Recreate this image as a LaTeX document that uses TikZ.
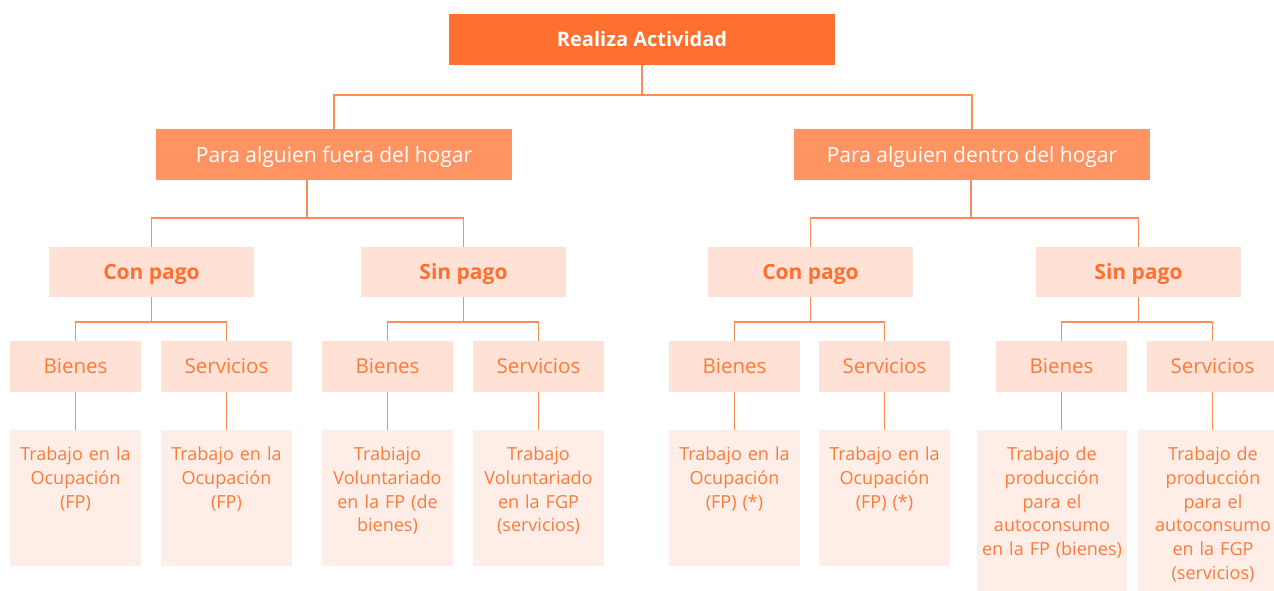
\documentclass[tikz,border=0pt]{standalone}
\usepackage{fontspec}
\setmainfont{Open Sans}

\definecolor{naranja}{HTML}{FF6F2E}
\definecolor{naranjaclaro}{HTML}{FF9462}
\definecolor{rosado}{HTML}{FFE1D6}
\definecolor{crema}{HTML}{FFEEE7}
\definecolor{linea}{HTML}{FF8B55}
\definecolor{letra}{HTML}{FF7A38}

\begin{document}
\begin{tikzpicture}[x=1pt, y=-1pt,
	raiz/.style = {fill=naranja, text=white, font=\fontsize{20}{22}\selectfont\bfseries, minimum width=386pt, minimum height=51pt, inner sep=0pt},
	destino/.style = {fill=naranjaclaro, text=white, font=\fontsize{21}{24}\selectfont, minimum width=356pt, minimum height=51pt, inner sep=0pt, text depth=0pt},
	pago/.style = {fill=rosado, text=naranja, font=\fontsize{21}{24}\selectfont\bfseries, minimum width=205pt, minimum height=50pt, inner sep=0pt, text depth=0pt},
	tipo/.style = {fill=rosado, text=letra, font=\fontsize{20.5}{24}\selectfont, minimum width=131pt, minimum height=51pt, inner sep=0pt},
	trabajo/.style = {fill=crema, anchor=north, minimum width=131pt, minimum height=136pt, inner sep=0pt},
	texto/.style = {text=letra, font=\fontsize{18}{23.7}\selectfont, align=center, anchor=north, inner sep=0pt, yshift=-17pt},
	enlace/.style = {draw=linea, line width=1.6pt}
]

	% Margins
	
	\useasboundingbox (0, 0) rectangle (1274, 591);
	
	% Root
	
	\node [raiz] (actividad) at (642, 39.5) {Realiza Actividad};
	
	% For whom
	
	\node [destino] (fuera) at (334, 154.5) {Para alguien fuera del hogar};
	\node [destino] (dentro) at (972, 154.5) {Para alguien dentro del hogar};
	
	% Paid or not
	
	\node [pago] (conA) at (151.5, 272) {Con pago};
	\node [pago] (sinA) at (463.5, 272) {Sin pago};
	\node [pago] (conB) at (810.5, 272) {Con pago};
	\node [pago] (sinB) at (1138.5, 272) {Sin pago};
	
	% Goods or services
	
	\node [tipo] (bienA1) at (75.5, 366.5) {Bienes};
	\node [tipo] (servA1) at (226.5, 366.5) {Servicios};
	\node [tipo] (bienA2) at (387.5, 366.5) {Bienes};
	\node [tipo] (servA2) at (538.5, 366.5) {Servicios};
	\node [tipo] (bienB1) at (734.5, 366.5) {Bienes};
	\node [tipo] (servB1) at (884.5, 366.5) {Servicios};
	\node [tipo] (bienB2) at (1061.5, 366.5) {Bienes};
	\node [tipo] (servB2) at (1212.5, 366.5) {Servicios};
	
	% Kind of work
	
	\node [trabajo, label={[texto, text width=126pt]north:Trabajo en la\\Ocupación\\(FP)}] (trabA1) at (75.5, 430) {};
	\node [trabajo, label={[texto, text width=126pt]north:Trabajo en la\\Ocupación\\(FP)}] (trabA2) at (226.5, 430) {};
	\node [trabajo, label={[texto, text width=126pt]north:Trabiajo\\Voluntariado\\en la FP (de\\bienes)}] (trabA3) at (387.5, 430) {};
	\node [trabajo, label={[texto, text width=126pt]north:Trabajo\\Voluntariado\\en la FGP\\(servicios)}] (trabA4) at (538.5, 430) {};
	\node [trabajo, label={[texto, text width=126pt]north:Trabajo en la\\Ocupación\\(FP) (*)}] (trabB1) at (734.5, 430) {};
	\node [trabajo, label={[texto, text width=126pt]north:Trabajo en la\\Ocupación\\(FP) (*)}] (trabB2) at (884.5, 430) {};
	\node [trabajo, minimum width=150pt, minimum height=170pt, label={[texto, text width=150pt]north:Trabajo de\\producción\\para el\\autoconsumo\\en la FP (bienes)}] (trabB3) at (1052, 430) {};
	\node [trabajo, minimum width=150pt, minimum height=170pt, label={[texto, text width=150pt]north:Trabajo de\\producción\\para el\\autoconsumo\\en la FGP\\(servicios)}] (trabB4) at (1213, 430) {};
	
	% Junctions
	
	\coordinate (j0) at (642, 95);
	\coordinate (jA) at (307, 218);
	\coordinate (jB) at (971, 218);
	
	% Connectors
	
	\draw [enlace] (actividad.south) -- (j0);
	\draw [enlace] (fuera.north) |- (j0) -| (dentro.north);
	
	\draw [enlace] (fuera.south -| jA) -- (jA);
	\draw [enlace] (conA.north) |- (jA) -| (sinA.north);
	\draw [enlace] (dentro.south -| jB) -- (jB);
	\draw [enlace] (conB.north) |- (jB) -| (sinB.north);
	
	\draw [enlace] (conA.south) -- ++(0, 25) coordinate (jconA);
	\draw [enlace] (bienA1.north) |- (jconA) -| (servA1.north);
	\draw [enlace] (sinA.south) -- ++(0, 25) coordinate (jsinA);
	\draw [enlace] (bienA2.north) |- (jsinA) -| (servA2.north);
	\draw [enlace] (conB.south) -- ++(0, 25) coordinate (jconB);
	\draw [enlace] (bienB1.north) |- (jconB) -| (servB1.north);
	\draw [enlace] (sinB.south) -- ++(0, 25) coordinate (jsinB);
	\draw [enlace] (bienB2.north) |- (jsinB) -| (servB2.north);
	
	\draw [enlace] (bienA1) -- (trabA1);
	\draw [enlace] (servA1) -- (trabA2);
	\draw [enlace] (bienA2) -- (trabA3);
	\draw [enlace] (servA2) -- (trabA4);
	\draw [enlace] (bienB1) -- (trabB1);
	\draw [enlace] (servB1) -- (trabB2);
	\draw [enlace] (bienB2.south) -- (bienB2.south |- trabB3.north);
	\draw [enlace] (servB2.south) -- (servB2.south |- trabB4.north);

\end{tikzpicture}
\end{document}
